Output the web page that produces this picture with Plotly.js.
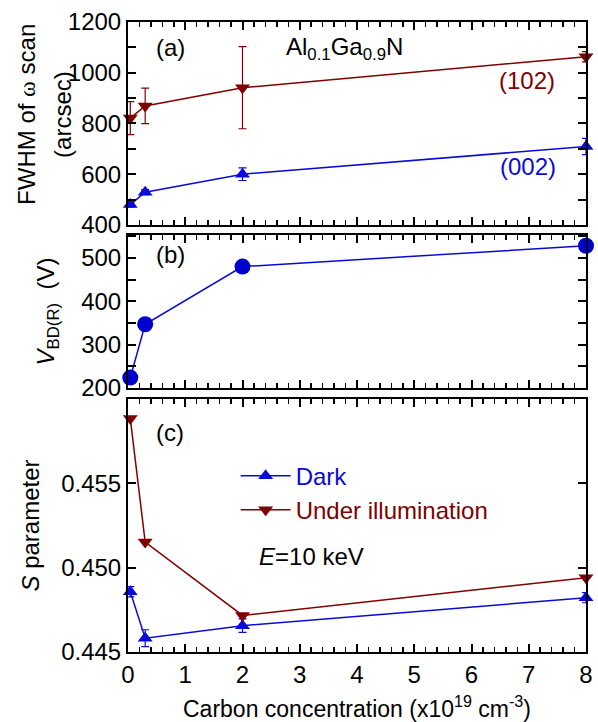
<!DOCTYPE html>
<html><head><meta charset="utf-8">
<script src="https://cdn.plot.ly/plotly-3.0.1.min.js"></script>
<style>html,body{margin:0;padding:0;background:#fff}</style>
</head><body>
<div id="chart" style="width:598px;height:722px"></div>
<script>
// Carbon concentration (x10^19 cm^-3)
const carbon = [0.04, 0.3, 2, 8];
// (a) FWHM of omega scan (arcsec)
const fwhm002 = [480, 529, 600, 709];
const fwhm002Err = [10, 10, 25, 32];
const fwhm102 = [821, 869, 941, 1063];
const fwhm102Err = [65, 70, 162, 20];
// (b) V_BD(R) (V)
const vbd = [224, 347, 480, 528];
// (c) S parameter
const sDark = [0.44857, 0.44582, 0.44656, 0.44822];
const sDarkErr = [0.0003, 0.0005, 0.0004, 0.0003];
const sIllum = [0.45884, 0.45152, 0.44717, 0.4494];
const xTicks = [0,1,2,3,4,5,6,7,8];
const sTicks = [0.445, 0.450, 0.455];

const BLUE = '#0a0ad8', RED = '#800000';
const F = 'Liberation Sans, Arial, sans-serif';

const traces = [
  {x: carbon, y: fwhm102, xaxis:'x', yaxis:'y', mode:'lines+markers', showlegend:false, cliponaxis:false,
   line:{color:RED,width:1.5}, marker:{symbol:'triangle-down',size:13,color:RED},
   error_y:{type:'data',array:fwhm102Err,visible:true,color:RED,thickness:1.2,width:4}},
  {x: carbon, y: fwhm002, xaxis:'x', yaxis:'y', mode:'lines+markers', showlegend:false, cliponaxis:false,
   line:{color:BLUE,width:1.5}, marker:{symbol:'triangle-up',size:13,color:BLUE},
   error_y:{type:'data',array:fwhm002Err,visible:true,color:BLUE,thickness:1.2,width:4}},
  {x: carbon, y: vbd, xaxis:'x2', yaxis:'y2', mode:'lines+markers', showlegend:false, cliponaxis:false,
   line:{color:BLUE,width:1.5}, marker:{symbol:'circle',size:16,color:'#0000cc'}},
  {x: carbon, y: sDark, xaxis:'x3', yaxis:'y3', mode:'lines+markers', cliponaxis:false,
   name:'<span style="color:'+BLUE+'">Dark</span>',
   line:{color:BLUE,width:1.5}, marker:{symbol:'triangle-up',size:13,color:BLUE},
   error_y:{type:'data',array:sDarkErr,visible:true,color:BLUE,thickness:1.2,width:4}},
  {x: carbon, y: sIllum, xaxis:'x3', yaxis:'y3', mode:'lines+markers', cliponaxis:false,
   name:'<span style="color:'+RED+'">Under illumination</span>',
   line:{color:RED,width:1.5}, marker:{symbol:'triangle-down',size:13,color:RED}}
];

function xax(anchor, labels){
  return {anchor:anchor, range:[0,8], tickvals:xTicks, ticks:'inside', ticklen:8, tickwidth:2,
    tickcolor:'#000', showline:true, linecolor:'#000', linewidth:2, mirror:'allticks',
    showgrid:false, zeroline:false, showticklabels:labels,
    tickfont:{family:F,size:24,color:'#000'},
    minor:{dtick:0.2, ticks:'inside', ticklen:5, tickwidth:1.5, tickcolor:'#000', showgrid:false}};
}
function yax(anchor, dom, range){
  return {anchor:anchor, domain:dom, range:range, ticks:'inside', ticklen:8, tickwidth:2,
    tickcolor:'#000', showline:true, linecolor:'#000', linewidth:2, mirror:'allticks',
    showgrid:false, zeroline:false, tickfont:{family:F,size:24,color:'#000'}, ticklabelstandoff:0};
}
const TF = {family:F,size:24,color:'#000'};

const layout = {
  width:598, height:722, margin:{l:128, r:12, t:22, b:70},
  paper_bgcolor:'#fff', plot_bgcolor:'#fff',
  font:{family:F, size:24, color:'#000'},
  xaxis: xax('y',false),
  xaxis2: Object.assign(xax('y2',false), {matches:'x'}),
  xaxis3: Object.assign(xax('y3',true), {matches:'x',
    title:{text:'Carbon concentration (x10<sup>19</sup> cm<sup>-3</sup>)', font:{family:F,size:23}, standoff:16}}),
  yaxis: Object.assign(yax('x',[0.678,1],[400,1200]),
    {tick0:400, dtick:200,
     minor:{dtick:100, ticks:'inside', ticklen:8, tickwidth:2, tickcolor:'#000', showgrid:false}}),
  yaxis2: Object.assign(yax('x2',[0.419,0.662],[200,553]),
    {tick0:200, dtick:100,
     minor:{dtick:50, ticks:'inside', ticklen:8, tickwidth:2, tickcolor:'#000', showgrid:false},
     title:{text:'<i>V</i><sub>BD(R)</sub>  (V)', font:TF, standoff:20}}),
  yaxis3: Object.assign(yax('x3',[0,0.4016],[0.445,0.46]),
    {tickvals:sTicks, tickformat:'.3f', title:{text:'<i>S</i> parameter', font:TF, standoff:15}}),
  showlegend:true,
  legend:{x:0.235, y:0.315, xanchor:'left', yanchor:'top', bgcolor:'rgba(0,0,0,0)',
    font:{family:F,size:24}, tracegroupgap:0, itemwidth:50},
  annotations:[
    {xref:'paper', yref:'y domain', x:0, xshift:-101, y:0.542, textangle:-90,
     text:'FWHM of <span style="font-family:Liberation Serif">ω</span> scan'},
    {xref:'paper', yref:'y domain', x:0, xshift:-65, y:0.542, textangle:-90, text:'(arcsec)'},
    {xref:'x domain', yref:'y domain', x:0.092, y:0.872, text:'(a)'},
    {xref:'x domain', yref:'y domain', x:0.472, y:0.87, text:'Al<sub>0.1</sub>Ga<sub>0.9</sub>N'},
    {xref:'x domain', yref:'y domain', x:0.871, y:0.714, text:'(102)', font:{family:F,size:24,color:RED}},
    {xref:'x domain', yref:'y domain', x:0.873, y:0.286, text:'(002)', font:{family:F,size:24,color:BLUE}},
    {xref:'x2 domain', yref:'y2 domain', x:0.092, y:0.87, text:'(b)'},
    {xref:'x3 domain', yref:'y3 domain', x:0.092, y:0.866, text:'(c)'},
    {xref:'x3 domain', yref:'y3 domain', x:0.40, y:0.376, text:'<i>E</i>=10 keV'}
  ].map(a => Object.assign({showarrow:false, xanchor:'center', yanchor:'middle', font:{family:F,size:24,color:'#000'}}, a))
};

Plotly.newPlot('chart', traces, layout, {displayModeBar:false, staticPlot:true});
</script>
</body></html>
